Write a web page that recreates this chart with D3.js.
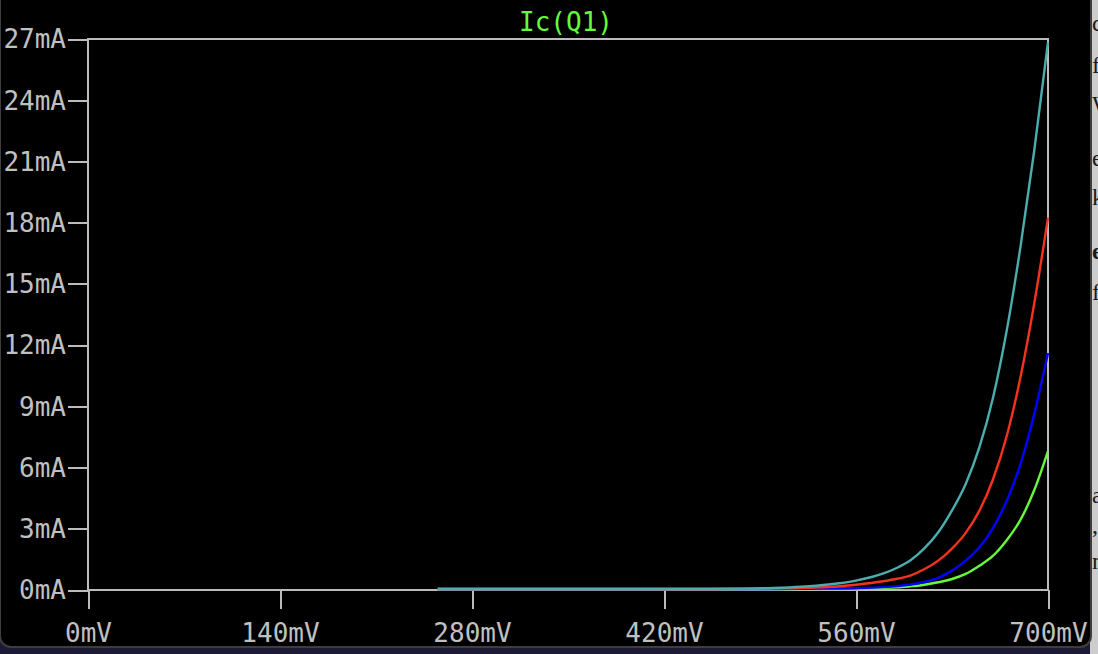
<!DOCTYPE html>
<html>
<head>
<meta charset="utf-8">
<script src="https://cdn.jsdelivr.net/npm/d3@7"></script>
<style>
	html, body { margin: 0; padding: 0; background: #1d1a36; overflow: hidden; }
	svg { display: block; }
	.tick text { font-family: "DejaVu Sans Mono", monospace; font-size: 26px; fill: #c0c0c0; }
	.tick line { stroke: #bcbcbc; stroke-width: 2; }
	.trace { fill: none; stroke-width: 2.4; }
</style>
</head>
<body>
<svg width="1098" height="654"></svg>
<script>
// sweep points (mV) and collector current of each trace (mA)
var voltages = [255, 300, 350, 400, 450, 480, 500, 520, 540, 560, 580, 590, 600, 610, 620, 630, 640, 650, 660, 670, 680, 690, 700];
var icCyan  = [0, 0, 0, 0.001, 0.007, 0.02, 0.05, 0.11, 0.22, 0.41, 0.76, 1.04, 1.42, 2.0, 2.78, 3.85, 5.15, 6.95, 9.4, 12.7, 16.8, 21.5, 26.8];
var icRed   = [0, 0, 0, 0, 0.003, 0.009, 0.02, 0.045, 0.1, 0.21, 0.38, 0.5, 0.67, 0.98, 1.39, 1.98, 2.75, 3.84, 5.39, 7.52, 10.4, 14.0, 18.2];
var icBlue  = [0, 0, 0, 0, 0, 0.001, 0.003, 0.008, 0.018, 0.04, 0.09, 0.14, 0.22, 0.35, 0.55, 0.9, 1.39, 2.04, 3.0, 4.33, 6.13, 8.58, 11.57];
var icGreen = [0, 0, 0, 0, 0, 0, 0.002, 0.004, 0.01, 0.024, 0.055, 0.085, 0.13, 0.21, 0.33, 0.49, 0.74, 1.14, 1.63, 2.4, 3.4, 4.85, 6.76];

var traceNames = ["green", "blue", "red", "cyan"];
var traceColors = ["#66fa3c", "#0000ff", "#f5321e", "#4aaeae"];
var traceValues = [icGreen, icBlue, icRed, icCyan];

var xTicks = [0, 140, 280, 420, 560, 700];
var yTicks = [0, 3, 6, 9, 12, 15, 18, 21, 24, 27];
var title = "Ic(Q1)";

// bits of the document window behind the plot window
var sideLetters = ["c", "f", "W", "e", "k", "e", "f", "a", ",", "n"];
var sideBaselines = [31, 73, 112, 166, 205, 259, 300, 503, 533, 569];

drawChart();

function drawChart() {
	var svg = d3.select("svg");
	var width = 1098;
	var height = 654;

	var plotLeft = 88, plotRight = 1048, plotTop = 39, plotBottom = 590;

	var x = d3.scaleLinear().domain([0, 700]).range([plotLeft, plotRight]);
	var y = d3.scaleLinear().domain([0, 27]).range([plotBottom, plotTop]);

	// background window and the page peeking out at the right
	svg.append("rect")
		.attr("x", 1090).attr("y", 0)
		.attr("width", width - 1090).attr("height", height)
		.attr("fill", "#cdcdcd");

	svg.selectAll(".side-letter")
		.data(sideLetters)
		.enter().append("text")
		.attr("class", "side-letter")
		.attr("x", 1092)
		.attr("y", function(d, i) { return sideBaselines[i]; })
		.attr("font-family", "Liberation Serif, serif")
		.attr("font-size", 24)
		.attr("font-weight", function(d, i) { return i === 5 ? "bold" : "normal"; })
		.attr("fill", "#1a1a1a")
		.text(function(d) { return d; });

	svg.append("rect")
		.attr("x", 0).attr("y", -20)
		.attr("width", 1091).attr("height", 667)
		.attr("rx", 11).attr("ry", 11)
		.attr("fill", "#000")
		.attr("stroke", "#3e3e3e")
		.attr("stroke-width", 2);

	// title
	svg.append("text")
		.attr("x", (plotLeft + plotRight) / 2 - 2)
		.attr("y", 31)
		.attr("text-anchor", "middle")
		.attr("font-family", "DejaVu Sans Mono, monospace")
		.attr("font-size", 26)
		.attr("fill", "#66fa3c")
		.text(title);

	// axes
	var yAxis = d3.axisLeft(y)
		.tickValues(yTicks)
		.tickSize(20)
		.tickSizeOuter(0)
		.tickPadding(2)
		.tickFormat(function(d) { return d + "mA"; });

	var gy = svg.append("g")
		.attr("transform", "translate(" + plotLeft + ",0)")
		.call(yAxis);
	gy.select(".domain").remove();
	gy.selectAll(".tick text").attr("dy", ".34em");

	var xAxis = d3.axisBottom(x)
		.tickValues(xTicks)
		.tickSize(19)
		.tickSizeOuter(0)
		.tickFormat(function(d) { return d + "mV"; });

	var gx = svg.append("g")
		.attr("transform", "translate(0," + plotBottom + ")")
		.call(xAxis);
	gx.select(".domain").remove();
	gx.selectAll(".tick text").attr("y", 52).attr("dy", null);

	svg.selectAll(".tick line").attr("shape-rendering", "crispEdges");

	// plot frame
	svg.append("rect")
		.attr("x", plotLeft).attr("y", plotTop)
		.attr("width", plotRight - plotLeft).attr("height", plotBottom - plotTop)
		.attr("fill", "none")
		.attr("stroke", "#bcbcbc")
		.attr("stroke-width", 2)
		.attr("shape-rendering", "crispEdges");

	// traces, cyan drawn last so it sits on top
	var line = d3.line()
		.x(function(d) { return x(d[0]); })
		.y(function(d) { return y(d[1]) - 1; })
		.curve(d3.curveMonotoneX);

	svg.selectAll(".trace")
		.data(traceValues)
		.enter().append("path")
		.attr("class", function(d, i) { return "trace trace-" + traceNames[i]; })
		.attr("stroke", function(d, i) { return traceColors[i]; })
		.attr("d", function(d) {
			return line(voltages.map(function(v, i) { return [v, d[i]]; }));
		});
}
</script>
</body>
</html>
